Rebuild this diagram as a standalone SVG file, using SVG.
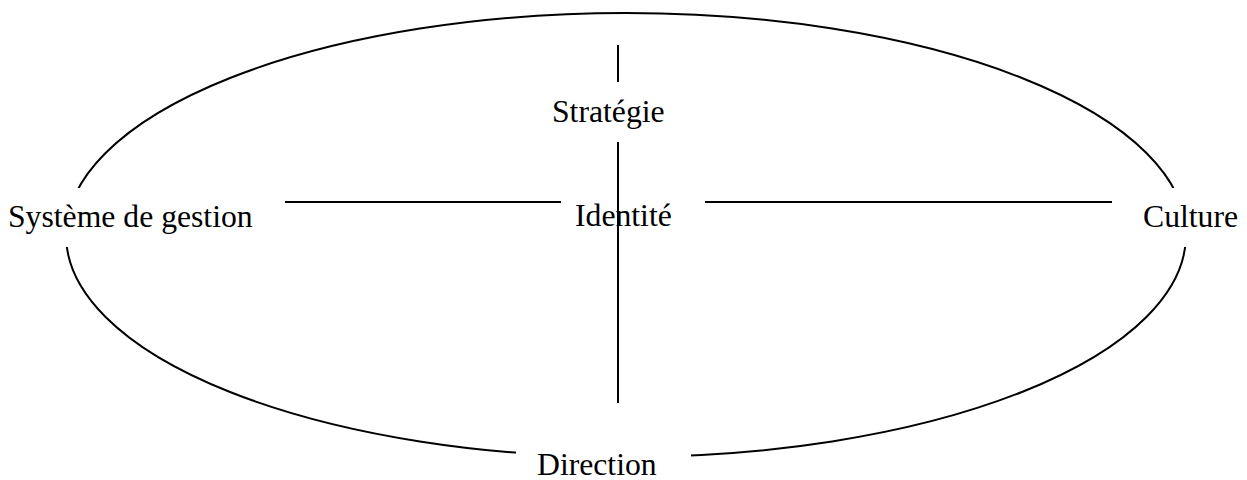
<svg xmlns="http://www.w3.org/2000/svg" width="1247" height="480" viewBox="0 0 1247 480">
<style>
.ln{stroke:#000;stroke-width:2;fill:none}
.gap{fill:#fff;stroke:none}
.lbl{font-family:"Liberation Serif","Times New Roman",serif;font-size:31.7px;fill:#000}
</style>
<rect width="1247" height="480" fill="#fff"/>
<g id="connectors">
<ellipse class="ln" cx="626" cy="235" rx="560" ry="222"/>
<rect class="gap" x="55" y="188" width="40" height="59"/>
<rect class="gap" x="1160" y="188" width="40" height="59"/>
<rect class="gap" x="516" y="435" width="175" height="40"/>
<line class="ln" x1="618" y1="45" x2="618" y2="82"/>
<line class="ln" x1="618" y1="142" x2="618" y2="403"/>
<line class="ln" x1="285" y1="202" x2="561" y2="202"/>
<line class="ln" x1="705" y1="202" x2="1112" y2="202"/>
</g>
<g id="strategie"><text class="lbl" x="552" y="122">Stratégie</text></g>
<g id="systeme"><text class="lbl" x="8" y="227">Système de gestion</text></g>
<g id="identite"><text class="lbl" x="575" y="226">Identité</text></g>
<g id="culture"><text class="lbl" x="1143" y="227">Culture</text></g>
<g id="direction"><text class="lbl" x="537" y="475">Direction</text></g>
</svg>
